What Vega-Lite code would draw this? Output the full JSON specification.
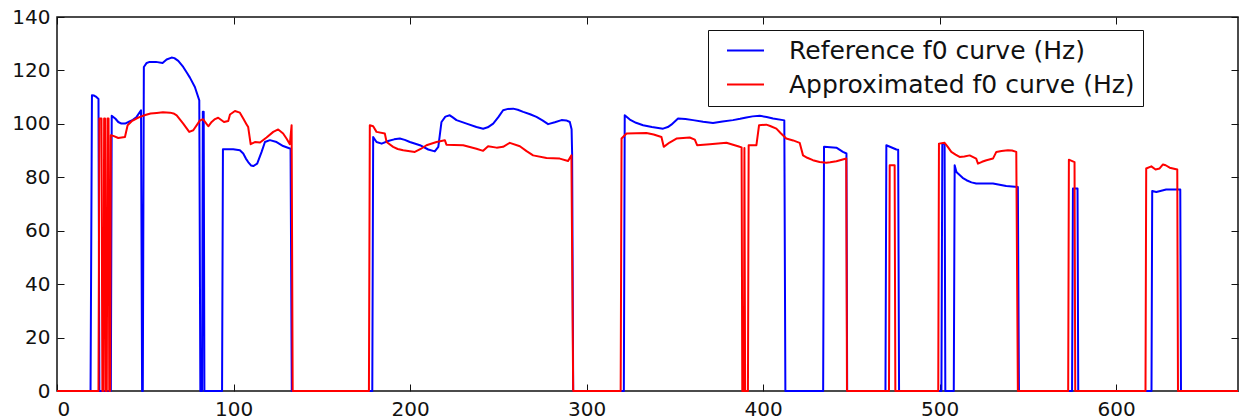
{
  "$schema": "https://vega.github.io/schema/vega-lite/v6.json",
  "width": 1181,
  "height": 374,
  "autosize": {"type": "none"},
  "padding": {"left": 57, "top": 17, "right": 5, "bottom": 28},
  "background": "white",
  "config": {
    "font": "DejaVu Sans",
    "view": {"stroke": "#111", "strokeWidth": 1.5},
    "axis": {"grid": false, "domain": false, "title": null, "labelFont": "DejaVu Sans", "labelFontSize": 20, "labelColor": "#111", "tickColor": "#111", "tickSize": -7, "tickWidth": 1}
  },
  "datasets": {
    "f0": [
      {"series": "Reference f0 curve (Hz)", "frame": 0, "f0": 0},
      {"series": "Reference f0 curve (Hz)", "frame": 19, "f0": 0},
      {"series": "Reference f0 curve (Hz)", "frame": 19.8, "f0": 110.7},
      {"series": "Reference f0 curve (Hz)", "frame": 21, "f0": 110.6},
      {"series": "Reference f0 curve (Hz)", "frame": 22, "f0": 110.2},
      {"series": "Reference f0 curve (Hz)", "frame": 23.5, "f0": 109.3},
      {"series": "Reference f0 curve (Hz)", "frame": 24, "f0": 0},
      {"series": "Reference f0 curve (Hz)", "frame": 30.5, "f0": 0},
      {"series": "Reference f0 curve (Hz)", "frame": 31, "f0": 103},
      {"series": "Reference f0 curve (Hz)", "frame": 33, "f0": 102},
      {"series": "Reference f0 curve (Hz)", "frame": 34.7, "f0": 100.7},
      {"series": "Reference f0 curve (Hz)", "frame": 36.5, "f0": 100.1},
      {"series": "Reference f0 curve (Hz)", "frame": 38.5, "f0": 100.1},
      {"series": "Reference f0 curve (Hz)", "frame": 40.5, "f0": 100.7},
      {"series": "Reference f0 curve (Hz)", "frame": 43, "f0": 101.5},
      {"series": "Reference f0 curve (Hz)", "frame": 45.1, "f0": 102.6},
      {"series": "Reference f0 curve (Hz)", "frame": 47.6, "f0": 105.1},
      {"series": "Reference f0 curve (Hz)", "frame": 48.2, "f0": 0},
      {"series": "Reference f0 curve (Hz)", "frame": 48.6, "f0": 0},
      {"series": "Reference f0 curve (Hz)", "frame": 49.2, "f0": 121.3},
      {"series": "Reference f0 curve (Hz)", "frame": 50.8, "f0": 122.8},
      {"series": "Reference f0 curve (Hz)", "frame": 52.5, "f0": 123.2},
      {"series": "Reference f0 curve (Hz)", "frame": 56, "f0": 123.2},
      {"series": "Reference f0 curve (Hz)", "frame": 59.8, "f0": 122.8},
      {"series": "Reference f0 curve (Hz)", "frame": 62.1, "f0": 124.1},
      {"series": "Reference f0 curve (Hz)", "frame": 64.9, "f0": 124.8},
      {"series": "Reference f0 curve (Hz)", "frame": 66.5, "f0": 124.6},
      {"series": "Reference f0 curve (Hz)", "frame": 68.7, "f0": 123.6},
      {"series": "Reference f0 curve (Hz)", "frame": 71.5, "f0": 121.3},
      {"series": "Reference f0 curve (Hz)", "frame": 73.5, "f0": 119.2},
      {"series": "Reference f0 curve (Hz)", "frame": 75.3, "f0": 117.3},
      {"series": "Reference f0 curve (Hz)", "frame": 78.1, "f0": 113.8},
      {"series": "Reference f0 curve (Hz)", "frame": 80.6, "f0": 108.8},
      {"series": "Reference f0 curve (Hz)", "frame": 81.2, "f0": 0},
      {"series": "Reference f0 curve (Hz)", "frame": 82.2, "f0": 0},
      {"series": "Reference f0 curve (Hz)", "frame": 82.6, "f0": 104.5},
      {"series": "Reference f0 curve (Hz)", "frame": 83.1, "f0": 104.5},
      {"series": "Reference f0 curve (Hz)", "frame": 83.5, "f0": 0},
      {"series": "Reference f0 curve (Hz)", "frame": 93.5, "f0": 0},
      {"series": "Reference f0 curve (Hz)", "frame": 94, "f0": 90.5},
      {"series": "Reference f0 curve (Hz)", "frame": 99.8, "f0": 90.5},
      {"series": "Reference f0 curve (Hz)", "frame": 103.6, "f0": 90.1},
      {"series": "Reference f0 curve (Hz)", "frame": 105.5, "f0": 88.9},
      {"series": "Reference f0 curve (Hz)", "frame": 107, "f0": 87},
      {"series": "Reference f0 curve (Hz)", "frame": 108.3, "f0": 85.7},
      {"series": "Reference f0 curve (Hz)", "frame": 110, "f0": 84.4},
      {"series": "Reference f0 curve (Hz)", "frame": 111.2, "f0": 84.2},
      {"series": "Reference f0 curve (Hz)", "frame": 113.4, "f0": 85.1},
      {"series": "Reference f0 curve (Hz)", "frame": 115.9, "f0": 89.5},
      {"series": "Reference f0 curve (Hz)", "frame": 117.8, "f0": 93.2},
      {"series": "Reference f0 curve (Hz)", "frame": 120.6, "f0": 93.9},
      {"series": "Reference f0 curve (Hz)", "frame": 124.4, "f0": 93.2},
      {"series": "Reference f0 curve (Hz)", "frame": 128.1, "f0": 91.7},
      {"series": "Reference f0 curve (Hz)", "frame": 132.3, "f0": 90.7},
      {"series": "Reference f0 curve (Hz)", "frame": 133, "f0": 0},
      {"series": "Reference f0 curve (Hz)", "frame": 178.6, "f0": 0},
      {"series": "Reference f0 curve (Hz)", "frame": 179.1, "f0": 95.1},
      {"series": "Reference f0 curve (Hz)", "frame": 181, "f0": 93.2},
      {"series": "Reference f0 curve (Hz)", "frame": 183.9, "f0": 92.6},
      {"series": "Reference f0 curve (Hz)", "frame": 187.6, "f0": 93.6},
      {"series": "Reference f0 curve (Hz)", "frame": 191, "f0": 94.2},
      {"series": "Reference f0 curve (Hz)", "frame": 194.2, "f0": 94.5},
      {"series": "Reference f0 curve (Hz)", "frame": 197, "f0": 94},
      {"series": "Reference f0 curve (Hz)", "frame": 199.9, "f0": 93.2},
      {"series": "Reference f0 curve (Hz)", "frame": 205.6, "f0": 92},
      {"series": "Reference f0 curve (Hz)", "frame": 210.3, "f0": 90.4},
      {"series": "Reference f0 curve (Hz)", "frame": 214, "f0": 89.7},
      {"series": "Reference f0 curve (Hz)", "frame": 216, "f0": 91.4},
      {"series": "Reference f0 curve (Hz)", "frame": 217.8, "f0": 100.7},
      {"series": "Reference f0 curve (Hz)", "frame": 220, "f0": 102.7},
      {"series": "Reference f0 curve (Hz)", "frame": 222.5, "f0": 103.2},
      {"series": "Reference f0 curve (Hz)", "frame": 224, "f0": 102.5},
      {"series": "Reference f0 curve (Hz)", "frame": 226.3, "f0": 101.4},
      {"series": "Reference f0 curve (Hz)", "frame": 232, "f0": 100.1},
      {"series": "Reference f0 curve (Hz)", "frame": 237.6, "f0": 98.8},
      {"series": "Reference f0 curve (Hz)", "frame": 241.4, "f0": 98.2},
      {"series": "Reference f0 curve (Hz)", "frame": 244, "f0": 98.7},
      {"series": "Reference f0 curve (Hz)", "frame": 247.1, "f0": 100.1},
      {"series": "Reference f0 curve (Hz)", "frame": 250, "f0": 102.5},
      {"series": "Reference f0 curve (Hz)", "frame": 252.7, "f0": 105.1},
      {"series": "Reference f0 curve (Hz)", "frame": 255.5, "f0": 105.6},
      {"series": "Reference f0 curve (Hz)", "frame": 258.4, "f0": 105.7},
      {"series": "Reference f0 curve (Hz)", "frame": 261, "f0": 105.3},
      {"series": "Reference f0 curve (Hz)", "frame": 264.1, "f0": 104.5},
      {"series": "Reference f0 curve (Hz)", "frame": 268, "f0": 103.6},
      {"series": "Reference f0 curve (Hz)", "frame": 271.6, "f0": 102.6},
      {"series": "Reference f0 curve (Hz)", "frame": 275, "f0": 101.3},
      {"series": "Reference f0 curve (Hz)", "frame": 278.2, "f0": 99.9},
      {"series": "Reference f0 curve (Hz)", "frame": 282, "f0": 100.6},
      {"series": "Reference f0 curve (Hz)", "frame": 285.8, "f0": 101.4},
      {"series": "Reference f0 curve (Hz)", "frame": 288.5, "f0": 101.3},
      {"series": "Reference f0 curve (Hz)", "frame": 290.5, "f0": 100.7},
      {"series": "Reference f0 curve (Hz)", "frame": 291.5, "f0": 98},
      {"series": "Reference f0 curve (Hz)", "frame": 291.8, "f0": 88.9},
      {"series": "Reference f0 curve (Hz)", "frame": 292.4, "f0": 0},
      {"series": "Reference f0 curve (Hz)", "frame": 321.1, "f0": 0},
      {"series": "Reference f0 curve (Hz)", "frame": 321.6, "f0": 103.2},
      {"series": "Reference f0 curve (Hz)", "frame": 324.5, "f0": 101.6},
      {"series": "Reference f0 curve (Hz)", "frame": 328, "f0": 100.4},
      {"series": "Reference f0 curve (Hz)", "frame": 332, "f0": 99.5},
      {"series": "Reference f0 curve (Hz)", "frame": 337, "f0": 98.8},
      {"series": "Reference f0 curve (Hz)", "frame": 343.3, "f0": 98.2},
      {"series": "Reference f0 curve (Hz)", "frame": 346, "f0": 98.8},
      {"series": "Reference f0 curve (Hz)", "frame": 348, "f0": 99.7},
      {"series": "Reference f0 curve (Hz)", "frame": 351.8, "f0": 102},
      {"series": "Reference f0 curve (Hz)", "frame": 356, "f0": 101.8},
      {"series": "Reference f0 curve (Hz)", "frame": 360.3, "f0": 101.4},
      {"series": "Reference f0 curve (Hz)", "frame": 366, "f0": 100.8},
      {"series": "Reference f0 curve (Hz)", "frame": 371.6, "f0": 100.3},
      {"series": "Reference f0 curve (Hz)", "frame": 377, "f0": 100.9},
      {"series": "Reference f0 curve (Hz)", "frame": 382.9, "f0": 101.4},
      {"series": "Reference f0 curve (Hz)", "frame": 387, "f0": 101.9},
      {"series": "Reference f0 curve (Hz)", "frame": 390.5, "f0": 102.4},
      {"series": "Reference f0 curve (Hz)", "frame": 394, "f0": 102.8},
      {"series": "Reference f0 curve (Hz)", "frame": 398.1, "f0": 103},
      {"series": "Reference f0 curve (Hz)", "frame": 402, "f0": 102.6},
      {"series": "Reference f0 curve (Hz)", "frame": 405.6, "f0": 102},
      {"series": "Reference f0 curve (Hz)", "frame": 411.3, "f0": 101.4},
      {"series": "Reference f0 curve (Hz)", "frame": 412, "f0": 101.3},
      {"series": "Reference f0 curve (Hz)", "frame": 412.6, "f0": 0},
      {"series": "Reference f0 curve (Hz)", "frame": 434, "f0": 0},
      {"series": "Reference f0 curve (Hz)", "frame": 434.5, "f0": 91.4},
      {"series": "Reference f0 curve (Hz)", "frame": 441.5, "f0": 91.1},
      {"series": "Reference f0 curve (Hz)", "frame": 445.2, "f0": 89.5},
      {"series": "Reference f0 curve (Hz)", "frame": 447.2, "f0": 88.9},
      {"series": "Reference f0 curve (Hz)", "frame": 447.6, "f0": 0},
      {"series": "Reference f0 curve (Hz)", "frame": 469.3, "f0": 0},
      {"series": "Reference f0 curve (Hz)", "frame": 469.8, "f0": 92},
      {"series": "Reference f0 curve (Hz)", "frame": 475.5, "f0": 90.4},
      {"series": "Reference f0 curve (Hz)", "frame": 476.5, "f0": 90.3},
      {"series": "Reference f0 curve (Hz)", "frame": 477, "f0": 0},
      {"series": "Reference f0 curve (Hz)", "frame": 501, "f0": 0},
      {"series": "Reference f0 curve (Hz)", "frame": 501.5, "f0": 92.6},
      {"series": "Reference f0 curve (Hz)", "frame": 502.8, "f0": 92.6},
      {"series": "Reference f0 curve (Hz)", "frame": 503.2, "f0": 0},
      {"series": "Reference f0 curve (Hz)", "frame": 508, "f0": 0},
      {"series": "Reference f0 curve (Hz)", "frame": 508.5, "f0": 84.5},
      {"series": "Reference f0 curve (Hz)", "frame": 509.5, "f0": 82},
      {"series": "Reference f0 curve (Hz)", "frame": 510.4, "f0": 81.4},
      {"series": "Reference f0 curve (Hz)", "frame": 513, "f0": 79.8},
      {"series": "Reference f0 curve (Hz)", "frame": 515.2, "f0": 78.9},
      {"series": "Reference f0 curve (Hz)", "frame": 518, "f0": 78.1},
      {"series": "Reference f0 curve (Hz)", "frame": 520.7, "f0": 77.7},
      {"series": "Reference f0 curve (Hz)", "frame": 530.2, "f0": 77.7},
      {"series": "Reference f0 curve (Hz)", "frame": 537.7, "f0": 76.7},
      {"series": "Reference f0 curve (Hz)", "frame": 544.3, "f0": 76.4},
      {"series": "Reference f0 curve (Hz)", "frame": 544.9, "f0": 0},
      {"series": "Reference f0 curve (Hz)", "frame": 575, "f0": 0},
      {"series": "Reference f0 curve (Hz)", "frame": 575.5, "f0": 75.8},
      {"series": "Reference f0 curve (Hz)", "frame": 578.1, "f0": 75.8},
      {"series": "Reference f0 curve (Hz)", "frame": 578.5, "f0": 0},
      {"series": "Reference f0 curve (Hz)", "frame": 620, "f0": 0},
      {"series": "Reference f0 curve (Hz)", "frame": 620.4, "f0": 74.9},
      {"series": "Reference f0 curve (Hz)", "frame": 622.7, "f0": 74.5},
      {"series": "Reference f0 curve (Hz)", "frame": 625, "f0": 74.9},
      {"series": "Reference f0 curve (Hz)", "frame": 628.3, "f0": 75.4},
      {"series": "Reference f0 curve (Hz)", "frame": 636.3, "f0": 75.4},
      {"series": "Reference f0 curve (Hz)", "frame": 636.7, "f0": 0},
      {"series": "Reference f0 curve (Hz)", "frame": 669, "f0": 0},

      {"series": "Approximated f0 curve (Hz)", "frame": 0, "f0": 0},
      {"series": "Approximated f0 curve (Hz)", "frame": 23.5, "f0": 0},
      {"series": "Approximated f0 curve (Hz)", "frame": 24, "f0": 102},
      {"series": "Approximated f0 curve (Hz)", "frame": 25.2, "f0": 102},
      {"series": "Approximated f0 curve (Hz)", "frame": 25.7, "f0": 0},
      {"series": "Approximated f0 curve (Hz)", "frame": 26.3, "f0": 0},
      {"series": "Approximated f0 curve (Hz)", "frame": 26.7, "f0": 102},
      {"series": "Approximated f0 curve (Hz)", "frame": 27.2, "f0": 102},
      {"series": "Approximated f0 curve (Hz)", "frame": 27.6, "f0": 0},
      {"series": "Approximated f0 curve (Hz)", "frame": 28.2, "f0": 0},
      {"series": "Approximated f0 curve (Hz)", "frame": 28.6, "f0": 102},
      {"series": "Approximated f0 curve (Hz)", "frame": 29.2, "f0": 102},
      {"series": "Approximated f0 curve (Hz)", "frame": 29.6, "f0": 0},
      {"series": "Approximated f0 curve (Hz)", "frame": 30.1, "f0": 0},
      {"series": "Approximated f0 curve (Hz)", "frame": 30.5, "f0": 95.7},
      {"series": "Approximated f0 curve (Hz)", "frame": 31.9, "f0": 95.5},
      {"series": "Approximated f0 curve (Hz)", "frame": 34.7, "f0": 94.7},
      {"series": "Approximated f0 curve (Hz)", "frame": 38.5, "f0": 95.1},
      {"series": "Approximated f0 curve (Hz)", "frame": 40, "f0": 99.5},
      {"series": "Approximated f0 curve (Hz)", "frame": 42.3, "f0": 101},
      {"series": "Approximated f0 curve (Hz)", "frame": 45, "f0": 102},
      {"series": "Approximated f0 curve (Hz)", "frame": 47, "f0": 102.6},
      {"series": "Approximated f0 curve (Hz)", "frame": 50, "f0": 103.3},
      {"series": "Approximated f0 curve (Hz)", "frame": 53, "f0": 103.9},
      {"series": "Approximated f0 curve (Hz)", "frame": 56.5, "f0": 104.1},
      {"series": "Approximated f0 curve (Hz)", "frame": 60, "f0": 104.3},
      {"series": "Approximated f0 curve (Hz)", "frame": 64, "f0": 104.2},
      {"series": "Approximated f0 curve (Hz)", "frame": 66, "f0": 103.9},
      {"series": "Approximated f0 curve (Hz)", "frame": 67.8, "f0": 103.2},
      {"series": "Approximated f0 curve (Hz)", "frame": 71.5, "f0": 100.1},
      {"series": "Approximated f0 curve (Hz)", "frame": 74.9, "f0": 97},
      {"series": "Approximated f0 curve (Hz)", "frame": 77.2, "f0": 97.6},
      {"series": "Approximated f0 curve (Hz)", "frame": 81, "f0": 101.3},
      {"series": "Approximated f0 curve (Hz)", "frame": 82.8, "f0": 101.7},
      {"series": "Approximated f0 curve (Hz)", "frame": 85.7, "f0": 99.1},
      {"series": "Approximated f0 curve (Hz)", "frame": 87.6, "f0": 100.7},
      {"series": "Approximated f0 curve (Hz)", "frame": 89.5, "f0": 101.8},
      {"series": "Approximated f0 curve (Hz)", "frame": 91.3, "f0": 102.3},
      {"series": "Approximated f0 curve (Hz)", "frame": 94.6, "f0": 100.7},
      {"series": "Approximated f0 curve (Hz)", "frame": 97, "f0": 101.1},
      {"series": "Approximated f0 curve (Hz)", "frame": 98, "f0": 103.5},
      {"series": "Approximated f0 curve (Hz)", "frame": 100.8, "f0": 104.8},
      {"series": "Approximated f0 curve (Hz)", "frame": 103.6, "f0": 104.2},
      {"series": "Approximated f0 curve (Hz)", "frame": 105.5, "f0": 102},
      {"series": "Approximated f0 curve (Hz)", "frame": 107.4, "f0": 99.8},
      {"series": "Approximated f0 curve (Hz)", "frame": 108.3, "f0": 98.8},
      {"series": "Approximated f0 curve (Hz)", "frame": 109.7, "f0": 92.4},
      {"series": "Approximated f0 curve (Hz)", "frame": 112.1, "f0": 93.2},
      {"series": "Approximated f0 curve (Hz)", "frame": 115, "f0": 93},
      {"series": "Approximated f0 curve (Hz)", "frame": 118.7, "f0": 94.9},
      {"series": "Approximated f0 curve (Hz)", "frame": 122.5, "f0": 97},
      {"series": "Approximated f0 curve (Hz)", "frame": 125.3, "f0": 97.9},
      {"series": "Approximated f0 curve (Hz)", "frame": 128.1, "f0": 96.4},
      {"series": "Approximated f0 curve (Hz)", "frame": 130, "f0": 94.5},
      {"series": "Approximated f0 curve (Hz)", "frame": 131.9, "f0": 92.4},
      {"series": "Approximated f0 curve (Hz)", "frame": 132.9, "f0": 99.5},
      {"series": "Approximated f0 curve (Hz)", "frame": 133.5, "f0": 0},
      {"series": "Approximated f0 curve (Hz)", "frame": 176.7, "f0": 0},
      {"series": "Approximated f0 curve (Hz)", "frame": 177.2, "f0": 99.5},
      {"series": "Approximated f0 curve (Hz)", "frame": 179.1, "f0": 99.1},
      {"series": "Approximated f0 curve (Hz)", "frame": 181, "f0": 97},
      {"series": "Approximated f0 curve (Hz)", "frame": 185.7, "f0": 96.4},
      {"series": "Approximated f0 curve (Hz)", "frame": 186.7, "f0": 93.2},
      {"series": "Approximated f0 curve (Hz)", "frame": 190.4, "f0": 91.4},
      {"series": "Approximated f0 curve (Hz)", "frame": 193, "f0": 90.6},
      {"series": "Approximated f0 curve (Hz)", "frame": 196.1, "f0": 90.1},
      {"series": "Approximated f0 curve (Hz)", "frame": 202.7, "f0": 89.5},
      {"series": "Approximated f0 curve (Hz)", "frame": 206, "f0": 90.6},
      {"series": "Approximated f0 curve (Hz)", "frame": 209.3, "f0": 92},
      {"series": "Approximated f0 curve (Hz)", "frame": 215, "f0": 93.2},
      {"series": "Approximated f0 curve (Hz)", "frame": 219.7, "f0": 93.9},
      {"series": "Approximated f0 curve (Hz)", "frame": 220.6, "f0": 92.2},
      {"series": "Approximated f0 curve (Hz)", "frame": 225, "f0": 92.1},
      {"series": "Approximated f0 curve (Hz)", "frame": 230.1, "f0": 92},
      {"series": "Approximated f0 curve (Hz)", "frame": 237.6, "f0": 90.7},
      {"series": "Approximated f0 curve (Hz)", "frame": 241.4, "f0": 89.9},
      {"series": "Approximated f0 curve (Hz)", "frame": 244.2, "f0": 91.6},
      {"series": "Approximated f0 curve (Hz)", "frame": 249, "f0": 91.1},
      {"series": "Approximated f0 curve (Hz)", "frame": 252.7, "f0": 91.4},
      {"series": "Approximated f0 curve (Hz)", "frame": 256.5, "f0": 92.9},
      {"series": "Approximated f0 curve (Hz)", "frame": 262.2, "f0": 91.6},
      {"series": "Approximated f0 curve (Hz)", "frame": 266, "f0": 89.8},
      {"series": "Approximated f0 curve (Hz)", "frame": 269.7, "f0": 88.2},
      {"series": "Approximated f0 curve (Hz)", "frame": 277.3, "f0": 87.2},
      {"series": "Approximated f0 curve (Hz)", "frame": 284.8, "f0": 87},
      {"series": "Approximated f0 curve (Hz)", "frame": 289.5, "f0": 86.1},
      {"series": "Approximated f0 curve (Hz)", "frame": 291.4, "f0": 88.2},
      {"series": "Approximated f0 curve (Hz)", "frame": 292.4, "f0": 0},
      {"series": "Approximated f0 curve (Hz)", "frame": 319.3, "f0": 0},
      {"series": "Approximated f0 curve (Hz)", "frame": 319.8, "f0": 94.5},
      {"series": "Approximated f0 curve (Hz)", "frame": 322.6, "f0": 96.4},
      {"series": "Approximated f0 curve (Hz)", "frame": 328, "f0": 96.5},
      {"series": "Approximated f0 curve (Hz)", "frame": 333.9, "f0": 96.6},
      {"series": "Approximated f0 curve (Hz)", "frame": 338, "f0": 96},
      {"series": "Approximated f0 curve (Hz)", "frame": 342.4, "f0": 95.1},
      {"series": "Approximated f0 curve (Hz)", "frame": 343.7, "f0": 91.4},
      {"series": "Approximated f0 curve (Hz)", "frame": 347, "f0": 93},
      {"series": "Approximated f0 curve (Hz)", "frame": 350.9, "f0": 94.5},
      {"series": "Approximated f0 curve (Hz)", "frame": 358.4, "f0": 94.9},
      {"series": "Approximated f0 curve (Hz)", "frame": 361.3, "f0": 94.1},
      {"series": "Approximated f0 curve (Hz)", "frame": 362.6, "f0": 92},
      {"series": "Approximated f0 curve (Hz)", "frame": 369.8, "f0": 92.4},
      {"series": "Approximated f0 curve (Hz)", "frame": 379.2, "f0": 92.9},
      {"series": "Approximated f0 curve (Hz)", "frame": 386.7, "f0": 91.4},
      {"series": "Approximated f0 curve (Hz)", "frame": 387.8, "f0": 91.2},
      {"series": "Approximated f0 curve (Hz)", "frame": 388.2, "f0": 0},
      {"series": "Approximated f0 curve (Hz)", "frame": 389.1, "f0": 0},
      {"series": "Approximated f0 curve (Hz)", "frame": 389.4, "f0": 91},
      {"series": "Approximated f0 curve (Hz)", "frame": 389.8, "f0": 0},
      {"series": "Approximated f0 curve (Hz)", "frame": 391.4, "f0": 0},
      {"series": "Approximated f0 curve (Hz)", "frame": 391.8, "f0": 92},
      {"series": "Approximated f0 curve (Hz)", "frame": 396.2, "f0": 92},
      {"series": "Approximated f0 curve (Hz)", "frame": 397.7, "f0": 99.5},
      {"series": "Approximated f0 curve (Hz)", "frame": 401.8, "f0": 99.7},
      {"series": "Approximated f0 curve (Hz)", "frame": 404, "f0": 99.2},
      {"series": "Approximated f0 curve (Hz)", "frame": 407.5, "f0": 98.2},
      {"series": "Approximated f0 curve (Hz)", "frame": 410, "f0": 96.5},
      {"series": "Approximated f0 curve (Hz)", "frame": 413.1, "f0": 94.5},
      {"series": "Approximated f0 curve (Hz)", "frame": 417, "f0": 93.8},
      {"series": "Approximated f0 curve (Hz)", "frame": 420.7, "f0": 92.9},
      {"series": "Approximated f0 curve (Hz)", "frame": 422.6, "f0": 88.2},
      {"series": "Approximated f0 curve (Hz)", "frame": 425, "f0": 87.3},
      {"series": "Approximated f0 curve (Hz)", "frame": 428.2, "f0": 86.4},
      {"series": "Approximated f0 curve (Hz)", "frame": 432, "f0": 85.7},
      {"series": "Approximated f0 curve (Hz)", "frame": 435.8, "f0": 85.4},
      {"series": "Approximated f0 curve (Hz)", "frame": 438, "f0": 85.6},
      {"series": "Approximated f0 curve (Hz)", "frame": 441.5, "f0": 86},
      {"series": "Approximated f0 curve (Hz)", "frame": 447.1, "f0": 87},
      {"series": "Approximated f0 curve (Hz)", "frame": 447.5, "f0": 0},
      {"series": "Approximated f0 curve (Hz)", "frame": 471.3, "f0": 0},
      {"series": "Approximated f0 curve (Hz)", "frame": 471.7, "f0": 84.5},
      {"series": "Approximated f0 curve (Hz)", "frame": 474.5, "f0": 84.5},
      {"series": "Approximated f0 curve (Hz)", "frame": 474.9, "f0": 0},
      {"series": "Approximated f0 curve (Hz)", "frame": 499.2, "f0": 0},
      {"series": "Approximated f0 curve (Hz)", "frame": 499.6, "f0": 92.6},
      {"series": "Approximated f0 curve (Hz)", "frame": 502.8, "f0": 92.9},
      {"series": "Approximated f0 curve (Hz)", "frame": 504.5, "f0": 91.5},
      {"series": "Approximated f0 curve (Hz)", "frame": 506.6, "f0": 89.5},
      {"series": "Approximated f0 curve (Hz)", "frame": 509, "f0": 88.5},
      {"series": "Approximated f0 curve (Hz)", "frame": 511.3, "f0": 87.6},
      {"series": "Approximated f0 curve (Hz)", "frame": 514, "f0": 87.8},
      {"series": "Approximated f0 curve (Hz)", "frame": 517, "f0": 88.2},
      {"series": "Approximated f0 curve (Hz)", "frame": 520.7, "f0": 87},
      {"series": "Approximated f0 curve (Hz)", "frame": 521.7, "f0": 85.1},
      {"series": "Approximated f0 curve (Hz)", "frame": 524, "f0": 85.8},
      {"series": "Approximated f0 curve (Hz)", "frame": 526.5, "f0": 86.4},
      {"series": "Approximated f0 curve (Hz)", "frame": 530.2, "f0": 87},
      {"series": "Approximated f0 curve (Hz)", "frame": 532.1, "f0": 89.5},
      {"series": "Approximated f0 curve (Hz)", "frame": 535, "f0": 89.8},
      {"series": "Approximated f0 curve (Hz)", "frame": 538.7, "f0": 90.1},
      {"series": "Approximated f0 curve (Hz)", "frame": 541, "f0": 90},
      {"series": "Approximated f0 curve (Hz)", "frame": 543.4, "f0": 89.5},
      {"series": "Approximated f0 curve (Hz)", "frame": 544.3, "f0": 0},
      {"series": "Approximated f0 curve (Hz)", "frame": 572.8, "f0": 0},
      {"series": "Approximated f0 curve (Hz)", "frame": 573.2, "f0": 86.6},
      {"series": "Approximated f0 curve (Hz)", "frame": 576.4, "f0": 85.7},
      {"series": "Approximated f0 curve (Hz)", "frame": 576.8, "f0": 0},
      {"series": "Approximated f0 curve (Hz)", "frame": 616.6, "f0": 0},
      {"series": "Approximated f0 curve (Hz)", "frame": 617, "f0": 83.3},
      {"series": "Approximated f0 curve (Hz)", "frame": 619.9, "f0": 84.1},
      {"series": "Approximated f0 curve (Hz)", "frame": 622.3, "f0": 82.9},
      {"series": "Approximated f0 curve (Hz)", "frame": 624.6, "f0": 83.3},
      {"series": "Approximated f0 curve (Hz)", "frame": 626.5, "f0": 84.8},
      {"series": "Approximated f0 curve (Hz)", "frame": 628, "f0": 84.5},
      {"series": "Approximated f0 curve (Hz)", "frame": 630.3, "f0": 83.6},
      {"series": "Approximated f0 curve (Hz)", "frame": 634.6, "f0": 82.9},
      {"series": "Approximated f0 curve (Hz)", "frame": 635, "f0": 0},
      {"series": "Approximated f0 curve (Hz)", "frame": 669, "f0": 0}
    ]
  },
  "data": {"name": "f0"},
  "layer": [
    {
      "mark": {"type": "line", "opacity": 0},
      "encoding": {
        "x": {"field": "frame", "type": "quantitative", "scale": {"domain": [0, 669], "nice": false, "zero": false},
              "axis": {"orient": "top", "labels": false, "values": [0, 100, 200, 300, 400, 500, 600]}},
        "y": {"field": "f0", "type": "quantitative", "scale": {"domain": [0, 140], "nice": false},
              "axis": {"orient": "right", "labels": false, "values": [0, 20, 40, 60, 80, 100, 120, 140]}}
      }
    },
    {
      "mark": {"type": "line", "strokeWidth": 2, "strokeJoin": "round"},
      "encoding": {
        "x": {"field": "frame", "type": "quantitative", "scale": {"domain": [0, 669], "nice": false, "zero": false},
              "axis": {"orient": "bottom", "values": [0, 100, 200, 300, 400, 500, 600], "labelPadding": 15}},
        "y": {"field": "f0", "type": "quantitative", "scale": {"domain": [0, 140], "nice": false},
              "axis": {"orient": "left", "values": [0, 20, 40, 60, 80, 100, 120, 140], "labelPadding": 14}},
        "color": {
          "field": "series", "type": "nominal", "sort": null,
          "scale": {"domain": ["Reference f0 curve (Hz)", "Approximated f0 curve (Hz)"], "range": ["#0000ff", "#ff0000"]},
          "legend": {
            "title": null, "orient": "none", "legendX": 651, "legendY": 13, "direction": "vertical",
            "strokeColor": "#111", "fillColor": "white", "padding": 8,
            "symbolType": "M-2,0H2", "symbolSize": 342, "symbolStrokeWidth": 2, "symbolOffset": 17,
            "labelOffset": 31, "labelFontSize": 25, "labelFont": "DejaVu Sans", "labelColor": "#111",
            "rowPadding": 8, "labelLimit": 500
          }
        }
      }
    }
  ],
  "resolve": {"axis": {"x": "independent", "y": "independent"}}
}
